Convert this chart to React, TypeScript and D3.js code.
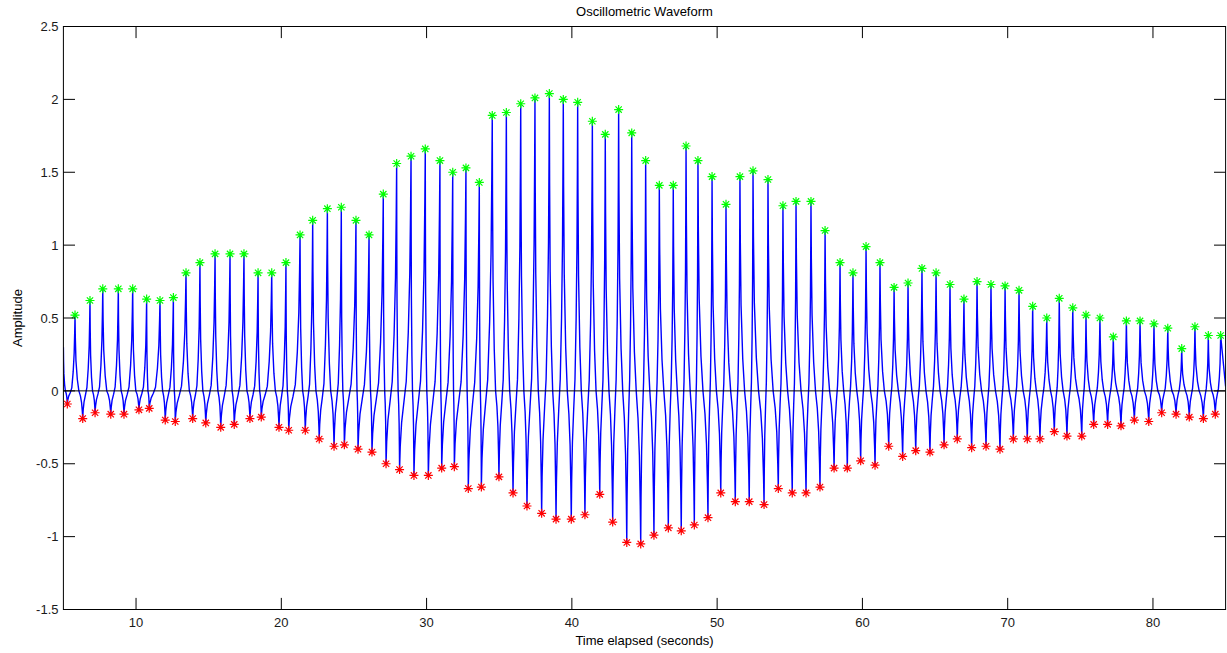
import React from 'react';
import * as d3 from 'd3';

// Detected systolic peaks (green) of each pulse: time (s) and amplitude
const peakTimes = [
  5.80, 6.83, 7.71, 8.78, 9.77, 10.73, 11.65, 12.57, 13.44, 14.40,
  15.44, 16.47, 17.43, 18.40, 19.34, 20.32, 21.29, 22.16, 23.17, 24.13,
  25.14, 26.04, 27.02, 27.94, 28.93, 29.91, 30.92, 31.80, 32.71, 33.63,
  34.52, 35.49, 36.48, 37.46, 38.45, 39.41, 40.40, 41.41, 42.30, 43.22,
  44.12, 45.08, 46.02, 46.98, 47.86, 48.68, 49.65, 50.61, 51.57, 52.47,
  53.50, 54.53, 55.43, 56.46, 57.43, 58.46, 59.35, 60.25, 61.21, 62.18,
  63.14, 64.10, 65.07, 66.03, 66.99, 67.89, 68.85, 69.82, 70.78, 71.72,
  72.69, 73.55, 74.48, 75.39, 76.35, 77.27, 78.17, 79.11, 80.07, 81.02,
  81.98, 82.89, 83.81, 84.66,
];
const peakValues = [
  0.52, 0.62, 0.70, 0.70, 0.70, 0.63, 0.62, 0.64, 0.81, 0.88,
  0.94, 0.94, 0.94, 0.81, 0.81, 0.88, 1.07, 1.17, 1.25, 1.26,
  1.17, 1.07, 1.35, 1.56, 1.61, 1.66, 1.58, 1.50, 1.53, 1.43,
  1.89, 1.91, 1.97, 2.01, 2.04, 2.00, 1.98, 1.85, 1.76, 1.93,
  1.77, 1.58, 1.41, 1.41, 1.68, 1.58, 1.47, 1.28, 1.47, 1.51,
  1.45, 1.27, 1.30, 1.30, 1.10, 0.88, 0.81, 0.99, 0.88, 0.71,
  0.74, 0.84, 0.81, 0.73, 0.63, 0.75, 0.73, 0.72, 0.69, 0.58,
  0.50, 0.635, 0.57, 0.52, 0.50, 0.37, 0.48, 0.48, 0.46, 0.43,
  0.29, 0.44, 0.38, 0.38,
];

// Detected troughs (red) preceding each peak: time (s) and amplitude
const troughTimes = [
  5.27, 6.33, 7.18, 8.26, 9.17, 10.20, 10.91, 12.01, 12.70, 13.90,
  14.80, 15.83, 16.76, 17.84, 18.62, 19.84, 20.51, 21.65, 22.61, 23.63,
  24.34, 25.28, 26.24, 27.21, 28.14, 29.13, 30.12, 31.04, 31.91, 32.87,
  33.77, 34.98, 35.95, 36.91, 37.92, 38.91, 39.96, 40.90, 41.92, 42.81,
  43.78, 44.74, 45.65, 46.64, 47.53, 48.43, 49.37, 50.25, 51.25, 52.21,
  53.23, 54.21, 55.17, 56.12, 57.08, 58.05, 58.96, 59.88, 60.87, 61.81,
  62.77, 63.67, 64.65, 65.62, 66.53, 67.52, 68.51, 69.47, 70.39, 71.35,
  72.22, 73.21, 74.08, 75.10, 75.92, 76.88, 77.80, 78.72, 79.71, 80.60,
  81.59, 82.50, 83.47, 84.29,
];
const troughValues = [
  -0.09, -0.19, -0.15, -0.16, -0.16, -0.13, -0.12, -0.20, -0.21, -0.19,
  -0.22, -0.25, -0.23, -0.19, -0.18, -0.25, -0.27, -0.27, -0.33, -0.38,
  -0.37, -0.40, -0.42, -0.50, -0.54, -0.58, -0.58, -0.53, -0.52, -0.67,
  -0.66, -0.59, -0.70, -0.79, -0.84, -0.88, -0.88, -0.85, -0.71, -0.90,
  -1.04, -1.05, -0.99, -0.94, -0.96, -0.92, -0.87, -0.70, -0.76, -0.76,
  -0.78, -0.67, -0.70, -0.70, -0.66, -0.53, -0.53, -0.48, -0.51, -0.38,
  -0.45, -0.41, -0.42, -0.37, -0.33, -0.39, -0.38, -0.40, -0.33, -0.33,
  -0.33, -0.28, -0.31, -0.31, -0.23, -0.23, -0.24, -0.20, -0.21, -0.15,
  -0.16, -0.18, -0.19, -0.16,
];

// Signal level at the first and last sample of the recording
const recordStart = { t: 5, v: 0.3 };
const recordEnd = { t: 85, v: 0.03 };

// Pulse shape between extrema as [fraction of interval, level], where
// level 1 = peak, 0 = baseline, -1 = trough
const fallShape: [number, number][] = [
  [0, 1], [0.04, 0.7], [0.12, 0.4], [0.3, 0.15], [0.5, 0], [0.7, -0.18], [0.85, -0.42], [0.95, -0.75], [1, -1],
];
const riseShape: [number, number][] = [
  [0, -1], [0.06, -0.7], [0.18, -0.4], [0.38, -0.14], [0.58, 0.04], [0.76, 0.25], [0.89, 0.5], [0.96, 0.78], [1, 1],
];

const xTicks = [10, 20, 30, 40, 50, 60, 70, 80];
const yTicks = [-1.5, -1, -0.5, 0, 0.5, 1, 1.5, 2, 2.5];

const W = 1227;
const H = 653;
const plot = { left: 63.4, right: 1225.6, top: 26.5, bottom: 609.5 };
const TICK = 11.6;
const FONT = "'Liberation Sans', Arial, Helvetica, sans-serif";

type Pt = [number, number];

function segment(shape: [number, number][], t0: number, t1: number, hi: number, lo: number): Pt[] {
  return shape.map(([s, a]) => [t0 + s * (t1 - t0), a >= 0 ? a * hi : -a * lo] as Pt);
}

function buildWaveform(): Pt[] {
  const pts: Pt[] = [];
  pts.push(...segment(fallShape, recordStart.t, troughTimes[0], recordStart.v, troughValues[0]));
  for (let i = 0; i < peakTimes.length; i++) {
    pts.push(...segment(riseShape, troughTimes[i], peakTimes[i], peakValues[i], troughValues[i]).slice(1));
    if (i + 1 < troughTimes.length) {
      pts.push(...segment(fallShape, peakTimes[i], troughTimes[i + 1], peakValues[i], troughValues[i + 1]).slice(1));
    } else {
      pts.push([recordEnd.t, recordEnd.v]);
    }
  }
  return pts;
}

function asterisk(r: number): string {
  const d = r * 0.7;
  return `M${-r},0H${r}M0,${-r}V${r}M${-d},${-d}L${d},${d}M${-d},${d}L${d},${-d}`;
}

export default function App() {
  const x = d3.scaleLinear().domain([5, 85]).range([plot.left, plot.right]);
  const y = d3.scaleLinear().domain([-1.5, 2.5]).range([plot.bottom, plot.top]);

  const wave = buildWaveform();
  const line = d3
    .line<Pt>()
    .x((d) => x(d[0]))
    .y((d) => y(d[1]));

  const star = asterisk(4.5);
  const cx = (plot.left + plot.right) / 2;
  const cy = (plot.top + plot.bottom) / 2;

  return (
    <svg
      width={W}
      height={H}
      style={{ position: 'absolute', left: 0, top: 0, background: '#fff' }}
      fontFamily={FONT}
    >
      <rect x={0} y={0} width={W} height={H} fill="#fff" />
      <defs>
        <clipPath id="plot-area">
          <rect x={plot.left} y={plot.top} width={plot.right - plot.left} height={plot.bottom - plot.top} />
        </clipPath>
      </defs>

      <g clipPath="url(#plot-area)">
        <path d={line(wave) ?? ''} fill="none" stroke="#0000ff" strokeWidth={1.4} strokeLinejoin="round" />
        <line x1={plot.left} x2={plot.right} y1={y(0)} y2={y(0)} stroke="#000" strokeWidth={1} />
        {peakTimes.map((t, i) => (
          <path key={`p${i}`} d={star} transform={`translate(${x(t)},${y(peakValues[i])})`} stroke="#00ff00" strokeWidth={1.2} fill="none" />
        ))}
        {troughTimes.map((t, i) => (
          <path key={`t${i}`} d={star} transform={`translate(${x(t)},${y(troughValues[i])})`} stroke="#ff0000" strokeWidth={1.2} fill="none" />
        ))}
      </g>

      {/* axes box */}
      <rect
        x={plot.left}
        y={plot.top}
        width={plot.right - plot.left}
        height={plot.bottom - plot.top}
        fill="none"
        stroke="#000"
        strokeWidth={1}
      />

      {/* x ticks, bottom and top */}
      {xTicks.map((v) => (
        <g key={`xt${v}`}>
          <line x1={x(v)} x2={x(v)} y1={plot.bottom} y2={plot.bottom - TICK} stroke="#000" />
          <line x1={x(v)} x2={x(v)} y1={plot.top} y2={plot.top + TICK} stroke="#000" />
          <text x={x(v)} y={627} textAnchor="middle" fontSize={13} fill="#1a1a1a">
            {String(v)}
          </text>
        </g>
      ))}

      {/* y ticks, left and right */}
      {yTicks.map((v) => (
        <g key={`yt${v}`}>
          <line x1={plot.left} x2={plot.left + TICK} y1={y(v)} y2={y(v)} stroke="#000" />
          <line x1={plot.right} x2={plot.right - TICK} y1={y(v)} y2={y(v)} stroke="#000" />
          <text x={58.5} y={y(v)} dy="0.36em" textAnchor="end" fontSize={13} fill="#1a1a1a">
            {String(v)}
          </text>
        </g>
      ))}

      <text x={cx} y={16} textAnchor="middle" fontSize={13} fill="#000">
        Oscillometric Waveform
      </text>
      <text x={cx} y={645} textAnchor="middle" fontSize={13} fill="#000">
        Time elapsed (seconds)
      </text>
      <text transform={`translate(22,${cy}) rotate(-90)`} textAnchor="middle" fontSize={13} fill="#000">
        Amplitude
      </text>
    </svg>
  );
}
